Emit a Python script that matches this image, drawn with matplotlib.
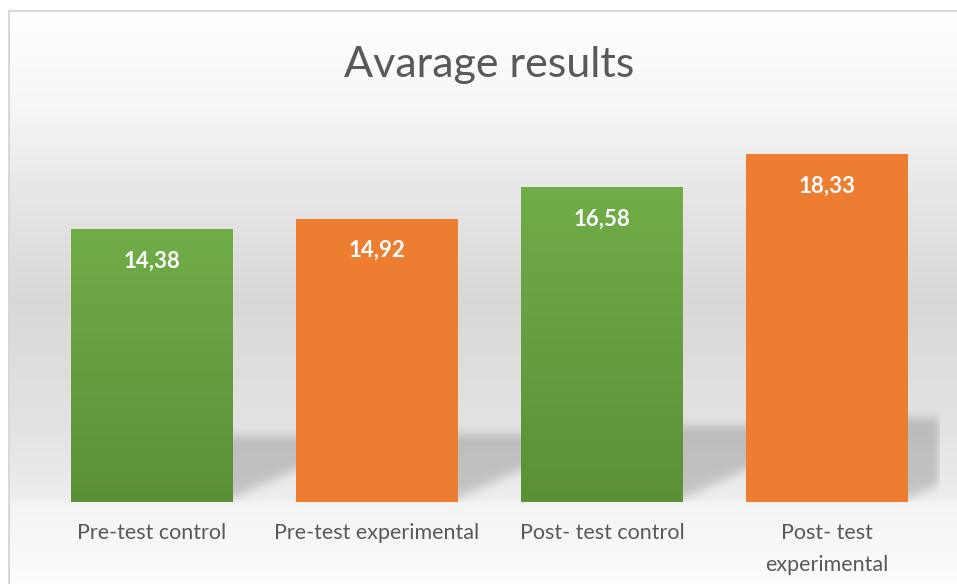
"""Average results bar chart with soft wall shadows."""

import matplotlib
matplotlib.use("Agg")
import matplotlib.pyplot as plt
import numpy as np
from matplotlib.colors import to_rgb

categories = ["Pre-test control", "Pre-test experimental",
              "Post- test control", "Post- test\nexperimental"]
values = [14.38, 14.92, 16.58, 18.33]
value_labels = ["14,38", "14,92", "16,58", "18,33"]
bar_colors = ["#70AD47", "#ED7D31", "#70AD47", "#ED7D31"]
title = "Avarage results"

W, H = 957, 584
FONT = ["Lato", "DejaVu Sans"]
TEXT_GREY = "#595959"


def box_blur(a, r, axis):
    k = np.ones(2 * r + 1) / (2 * r + 1)
    return np.apply_along_axis(lambda m: np.convolve(m, k, mode="same"), axis, a)


fig = plt.figure(figsize=(W / 100, H / 100), dpi=100)

# chart area background: vertical grey gradient, frame cropped right/bottom
bg = fig.add_axes([0, 0, 1, 1])
bg.set_axis_off()
rows = np.arange(H)
shade = np.interp(rows, [10, 100, 200, 300, 430, 497, 503, 584],
                  [1.0, 0.97, 0.90, 0.85, 0.89, 0.93, 0.955, 0.99])
bg_img = np.ones((H, W, 3))
bg_img[10:, 8:, :] = shade[10:, None, None]
bg_img[10:12, 8:, :] = 0.85
bg_img[10:, 8:10, :] = 0.85
bg.imshow(bg_img, extent=(0, W, H, 0), aspect="auto", interpolation="bilinear")
bg.set_xlim(0, W)
bg.set_ylim(H, 0)

# plot area
ax_l, ax_b, ax_w, ax_h = 39.5, 82, 900, 380
ax = fig.add_axes([ax_l / W, ax_b / H, ax_w / W, ax_h / H])
ax.set_facecolor("none")
for s in ax.spines.values():
    s.set_visible(False)

x = np.arange(len(values))
bar_w = 0.716
ymax = 20
bars = ax.bar(x, values, width=bar_w, color=bar_colors, zorder=3)

# shadows cast by the bars on the back wall
px_x = ax_w / len(values)
px_y = ax_h / ymax
u = np.arange(int(ax_w))[None, :] + 0.5
v = np.arange(int(ax_h))[:, None] + 0.5
mask = np.zeros((int(ax_h), int(ax_w)))
for xi, val in zip(x, values):
    x0 = (xi + 0.5 - bar_w / 2) * px_x
    x1 = (xi + 0.5 + bar_w / 2) * px_x
    top = 0.24 * val * px_y
    low = 4 + 0.45 * np.clip(u - x1, 0, None)
    m = (u >= x0 + 20) & (u <= x1 + 90) & (v <= top) & (v >= low)
    mask = np.maximum(mask, m.astype(float))
for _ in range(2):
    mask = box_blur(mask, 5, 0)
    mask = box_blur(mask, 5, 1)
shadow = np.zeros(mask.shape + (4,))
shadow[..., 3] = mask * 0.17
ax.imshow(shadow, extent=(-0.5, len(values) - 0.5, 0, ymax), origin="lower",
          aspect="auto", interpolation="bilinear", zorder=1)

# vertical gradient on the green bars
top_c = np.array(to_rgb("#70AD47"))
bot_c = np.array(to_rgb("#5B9038"))
t = np.linspace(0, 1, 256)[:, None, None]
grad = bot_c + (top_c - bot_c) * t
for b, c in zip(bars, bar_colors):
    if c != "#70AD47":
        continue
    bx, bw, bh = b.get_x(), b.get_width(), b.get_height()
    im = ax.imshow(grad, extent=(bx, bx + bw, 0, bh), origin="lower",
                   aspect="auto", zorder=3.5)
    im.set_clip_path(b)

for xi, val, lbl in zip(x, values, value_labels):
    ax.annotate(lbl, (xi, val), xytext=(0, -32 * 0.72), textcoords="offset points",
                ha="center", va="center", color="white", fontsize=16,
                fontweight="bold", family=FONT, zorder=5)

ax.set_xlim(-0.5, len(values) - 0.5)
ax.set_ylim(0, ymax)
ax.set_yticks([])
ax.set_xticks(x)
ax.set_xticklabels(categories, fontsize=15.5, color=TEXT_GREY, family=FONT,
                   linespacing=1.75)
ax.tick_params(axis="x", length=0, pad=15)

fig.text(489.5 / W, 1 - 77 / H, title, ha="center", va="baseline",
         fontsize=31, color=TEXT_GREY, family=FONT)

fig.savefig("out.png", dpi=100)
plt.close(fig)
